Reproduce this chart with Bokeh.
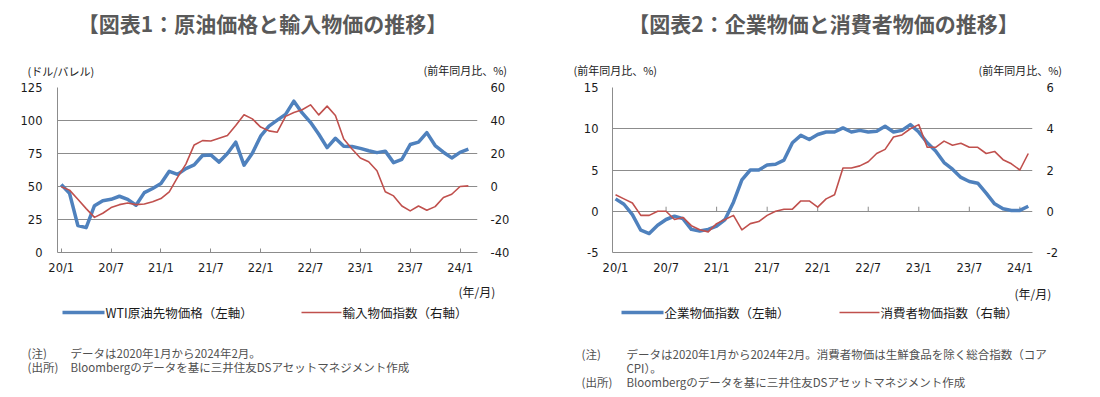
from bokeh.plotting import figure
from bokeh.models import Range1d, LinearAxis, FixedTicker
from bokeh.layouts import row, column
from bokeh.core.properties import value
from bokeh.embed import file_html
from bokeh.resources import INLINE

# ---------------- data ----------------
months = list(range(50))  # 2020/1 .. 2024/2
tick_pos = [0, 6, 12, 18, 24, 30, 36, 42, 48]
tick_labels = ["20/1", "20/7", "21/1", "21/7", "22/1", "22/7", "23/1", "23/7", "24/1"]

wti = [51.56, 44.76, 20.48, 18.84, 35.49, 39.27, 40.27, 42.61, 40.22, 35.79, 45.34, 48.52,
       52.20, 61.50, 59.16, 63.58, 66.32, 73.47, 73.95, 68.50, 75.03, 83.57, 66.18, 75.21,
       88.15, 95.72, 100.28, 104.69, 114.67, 105.76, 98.62, 89.55, 79.49, 86.53, 80.55, 80.26,
       78.87, 77.05, 75.67, 76.78, 68.09, 70.64, 81.80, 83.63, 90.79, 81.02, 75.96, 71.65,
       75.85, 78.26]
import_yoy = [-0.2, -2.2, -7.7, -13.4, -18.7, -16.2, -12.8, -11.0, -10.0, -11.0, -10.6, -9.3,
              -7.3, -3.2, 5.5, 13.6, 25.2, 27.8, 27.6, 29.2, 30.9, 37.0, 43.5, 41.0,
              36.0, 33.7, 32.9, 42.5, 44.8, 46.5, 49.5, 43.4, 48.7, 43.0, 28.8, 22.7,
              17.3, 15.0, 9.5, -3.2, -5.7, -11.8, -14.8, -11.8, -14.4, -12.2, -6.7, -4.7,
              0.0, 0.4]
cgpi_yoy = [1.5, 0.85, -0.4, -2.3, -2.7, -1.7, -1.0, -0.6, -0.9, -2.2, -2.4, -2.2,
            -1.8, -1.0, 1.1, 3.8, 5.0, 5.0, 5.6, 5.7, 6.2, 8.3, 9.2, 8.7,
            9.3, 9.6, 9.6, 10.1, 9.6, 9.8, 9.6, 9.7, 10.3, 9.6, 9.8, 10.5,
            9.6, 8.3, 7.3, 5.9, 5.1, 4.1, 3.6, 3.4, 2.2, 0.9, 0.3, 0.1,
            0.1, 0.6]
core_cpi_yoy = [0.8, 0.6, 0.4, -0.2, -0.2, 0.0, 0.0, -0.4, -0.3, -0.7, -0.9, -1.0,
                -0.6, -0.4, -0.2, -0.9, -0.6, -0.5, -0.2, 0.0, 0.1, 0.1, 0.5, 0.5,
                0.2, 0.6, 0.8, 2.1, 2.1, 2.2, 2.4, 2.8, 3.0, 3.6, 3.7, 4.0,
                4.2, 3.1, 3.1, 3.4, 3.2, 3.3, 3.1, 3.1, 2.8, 2.9, 2.5, 2.3,
                2.0, 2.8]

c1_left_ticks = [0, 25, 50, 75, 100, 125]
c1_right_ticks = [-40, -20, 0, 20, 40, 60]
c2_left_ticks = [-5, 0, 5, 10, 15]
c2_right_ticks = [-2, 0, 2, 4, 6]

titles = ["【図表1：原油価格と輸入物価の推移】", "【図表2：企業物価と消費者物価の推移】"]
legend1 = ["WTI原油先物価格（左軸）", "輸入物価指数（右軸）"]
legend2 = ["企業物価指数（左軸）", "消費者物価指数（右軸）"]

BLUE = "#4F81BD"
RED = "#C0504D"
GRID = "#8c8c8c"
TXT = "#1a1a1a"
NOTE = "#505050"
JP = "Noto Sans CJK JP"

PAGE_W = 1100
TOP_H = 78          # band with titles
CH_H = 204          # chart row height
BOT_H = 113         # band with legend + notes
FRAME_W, FRAME_H = 420, 165
FRAME_TOP_IN_CHART = 9


def band(y0, h):
    p = figure(width=PAGE_W, height=h, output_backend="svg", toolbar_location=None,
               x_range=Range1d(0, PAGE_W), y_range=Range1d(y0 + h, y0),
               x_axis_type=None, y_axis_type=None, min_border=0)
    p.min_border_left = p.min_border_right = p.min_border_top = p.min_border_bottom = 0
    p.outline_line_color = None
    p.grid.visible = False
    return p


def txt(p, x, y, s, size="11px", color=TXT, align="left", bold=False):
    p.text(x=[x], y=[y], text=[s], text_font=value(JP), text_font_size=value(size),
           text_color=color, text_align=align, text_baseline="middle",
           text_font_style="bold" if bold else "normal")


def chart(page_x0, frame_L, xr, yl, yr, left_ticks, right_ticks, left_standoff,
          right_standoff, zero_ticks):
    w = 550
    p = figure(width=w, height=CH_H, output_backend="svg", toolbar_location=None,
               x_range=Range1d(*xr), y_range=Range1d(*yl))
    p.min_border_left = frame_L - page_x0
    p.min_border_right = w - (frame_L - page_x0) - FRAME_W
    p.min_border_top = FRAME_TOP_IN_CHART
    p.min_border_bottom = CH_H - FRAME_TOP_IN_CHART - FRAME_H
    p.outline_line_color = None
    p.extra_y_ranges = {"r": Range1d(*yr)}

    xa = p.xaxis[0]
    xa.ticker = FixedTicker(ticks=tick_pos)
    xa.major_label_overrides = {t: l for t, l in zip(tick_pos, tick_labels)}
    xa.axis_line_color = GRID
    xa.major_tick_line_color = GRID
    xa.major_tick_out = 0
    xa.major_tick_in = 0 if zero_ticks else 4
    xa.minor_tick_line_color = None
    xa.major_label_standoff = 8

    ya = p.yaxis[0]
    ya.ticker = FixedTicker(ticks=left_ticks)
    ya.major_label_overrides = {t: str(t) for t in left_ticks}
    ya.axis_line_color = GRID
    ya.major_tick_out = 0
    ya.major_tick_in = 0
    ya.minor_tick_line_color = None
    ya.major_label_standoff = left_standoff

    ra = LinearAxis(y_range_name="r", ticker=FixedTicker(ticks=right_ticks))
    ra.major_label_overrides = {t: str(t) for t in right_ticks}
    ra.axis_line_color = None
    ra.major_tick_line_color = None
    ra.minor_tick_line_color = None
    ra.major_tick_out = 0
    ra.major_tick_in = 0
    ra.major_label_standoff = right_standoff
    p.add_layout(ra, "right")

    for ax in (xa, ya, ra):
        ax.major_label_text_font = "DejaVu Sans"
        ax.major_label_text_font_size = "11.5px"
        ax.major_label_text_color = TXT

    p.xgrid.visible = False
    p.ygrid.ticker = FixedTicker(ticks=left_ticks)
    p.ygrid.grid_line_color = GRID
    p.ygrid.grid_line_width = 1

    if zero_ticks:
        tp = [t for t in tick_pos if t > 0]
        p.segment(x0=tp, y0=[0] * len(tp), x1=tp, y1=[0.55] * len(tp),
                  line_color=GRID, line_width=1)
    return p


# ---------------- charts ----------------
p1 = chart(0, 57, (-0.45, 50.1), (0, 125), (-40, 60), c1_left_ticks, c1_right_ticks, 15, 13, False)
p1.line(months, wti, line_color=BLUE, line_width=3.5, line_join="round")
p1.line(months, import_yoy, line_color=RED, line_width=1.6, line_join="round", y_range_name="r")

p2 = chart(550, 612, (-0.36, 49.5), (-5, 15), (-2, 6), c2_left_ticks, c2_right_ticks, 14, 14, True)
p2.line(months, cgpi_yoy, line_color=BLUE, line_width=3.5, line_join="round")
p2.line(months, core_cpi_yoy, line_color=RED, line_width=1.6, line_join="round", y_range_name="r")

# ---------------- top band ----------------
top = band(0, TOP_H)
txt(top, 262, 22, titles[0], size="21px", color="#595959", align="center", bold=True)
txt(top, 823, 22, titles[1], size="21px", color="#595959", align="center", bold=True)
txt(top, 27, 70, "(ドル/バレル)")
txt(top, 423, 69, "(前年同月比、%)")
txt(top, 573, 69, "(前年同月比、%)")
txt(top, 978, 69, "(前年同月比、%)")

# ---------------- bottom band ----------------
by0 = TOP_H + CH_H
bot = band(by0, BOT_H)
txt(bot, 458, 291, "(年/月)", size="12px")
txt(bot, 1014, 293, "(年/月)", size="12px")

LEG_Y = 312
bot.segment(x0=[62, 621], y0=[LEG_Y, LEG_Y], x1=[104, 663], y1=[LEG_Y, LEG_Y],
            line_color=BLUE, line_width=3.5)
bot.segment(x0=[301, 839], y0=[LEG_Y, LEG_Y], x1=[341, 879], y1=[LEG_Y, LEG_Y],
            line_color=RED, line_width=1.6)
txt(bot, 105, LEG_Y, legend1[0], size="12.5px")
txt(bot, 342, LEG_Y, legend1[1], size="12.5px")
txt(bot, 664, LEG_Y, legend2[0], size="12.5px")
txt(bot, 880, LEG_Y, legend2[1], size="12.5px")

txt(bot, 27, 352, "(注)", size="11.5px", color=NOTE)
txt(bot, 70, 352, "データは2020年1月から2024年2月。", size="11.5px", color=NOTE)
txt(bot, 27, 366, "(出所)", size="11.5px", color=NOTE)
txt(bot, 70, 366, "Bloombergのデータを基に三井住友DSアセットマネジメント作成", size="11.5px", color=NOTE)

txt(bot, 581, 353, "(注)", size="11.5px", color=NOTE)
txt(bot, 626, 353, "データは2020年1月から2024年2月。消費者物価は生鮮食品を除く総合指数（コア",
    size="11.5px", color=NOTE)
txt(bot, 626, 367, "CPI）。", size="11.5px", color=NOTE)
txt(bot, 581, 381, "(出所)", size="11.5px", color=NOTE)
txt(bot, 626, 381, "Bloombergのデータを基に三井住友DSアセットマネジメント作成", size="11.5px", color=NOTE)

layout = column(top, row(p1, p2), bot)
open("out.html", "w").write(file_html(layout, INLINE))
